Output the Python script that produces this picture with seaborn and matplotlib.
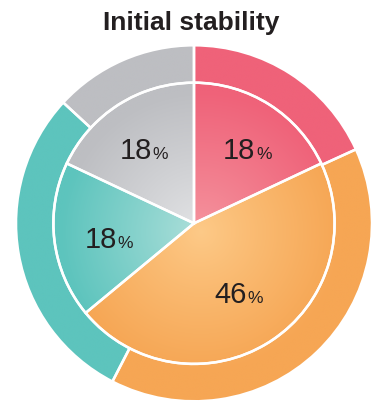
import numpy as np
import matplotlib
matplotlib.use("Agg")
import matplotlib.pyplot as plt
import matplotlib.colors as mcolors
import seaborn as sns

# ---- data ----
title = "Initial stability"
categories = ["Red", "Orange", "Teal", "Gray"]
inner_values = [18, 46, 18, 18]
inner_labels = ["18", "46", "18", "18"]
outer_values = [18, 39, 29, 13]

dark_colors = ["#EF6279", "#F6A654", "#5DC4BD", "#BDBEC2"]
light_colors = ["#F5959F", "#FDCA88", "#B0E0DB", "#E4E5E7"]

sns.set_theme(style="white")
plt.rcParams["font.family"] = ["Liberation Sans", "DejaVu Sans"]

fig = plt.figure(figsize=(3.75, 4.04), dpi=100)
fig.patch.set_facecolor("white")
ax = fig.add_axes([0.04267, 0.00668, 0.9493, 0.8812])

R = 1.0
r_in = 0.79
lw = 1.8

outer_wedges, _ = ax.pie(outer_values, radius=R, startangle=90, counterclock=False,
                         colors=dark_colors,
                         wedgeprops=dict(width=R - r_in, edgecolor="white", linewidth=lw))
inner_wedges, _ = ax.pie(inner_values, radius=r_in, startangle=90, counterclock=False,
                         colors=dark_colors,
                         wedgeprops=dict(edgecolor="white", linewidth=lw))

# radial gradient fills, clipped to each wedge
n = 500
xs = np.linspace(-R, R, n)
X, Y = np.meshgrid(xs, xs)
rad = np.sqrt((X - 0.04) ** 2 + (Y + 0.05) ** 2)
t = np.clip(rad / r_in, 0, 1) ** 0.9
for i in range(len(categories)):
    c0 = np.array(mcolors.to_rgb(light_colors[i]))
    c1 = np.array(mcolors.to_rgb(dark_colors[i]))
    img = c0[None, None, :] + (c1 - c0)[None, None, :] * t[..., None]
    for w in (outer_wedges[i], inner_wedges[i]):
        im = ax.imshow(img, extent=[-R, R, -R, R], origin="lower", zorder=1,
                       interpolation="bilinear")
        im.set_clip_path(w)
        w.set_facecolor("none")
        w.set_zorder(3)

# labels (small per-label nudges in points, as in the reference layout)
label_nudge = [(4, 0), (-2, 4), (2, -2), (-2, 0)]
lab_r = 0.50
for w, lab, (nx, ny) in zip(inner_wedges, inner_labels, label_nudge):
    ang = np.deg2rad((w.theta1 + w.theta2) / 2)
    x, y = lab_r * np.cos(ang), lab_r * np.sin(ang)
    ax.annotate(lab, xy=(x, y), xytext=(6 + nx, -7.5 + ny), textcoords="offset points",
                ha="right", va="baseline", fontsize=21, color="#231F20", zorder=5)
    ax.annotate("%", xy=(x, y), xytext=(6.3 + nx, -7.5 + ny), textcoords="offset points",
                ha="left", va="baseline", fontsize=12.5, color="#231F20", zorder=5)

ax.set_xlim(-R, R)
ax.set_ylim(-R, R)
ax.set_aspect("equal")
ax.axis("off")

fig.text(0.511, 1 - 23 / 404, title, ha="center", va="center",
         fontsize=19, fontweight="bold", color="#231F20")

fig.savefig("out.png", dpi=100, facecolor="white")
